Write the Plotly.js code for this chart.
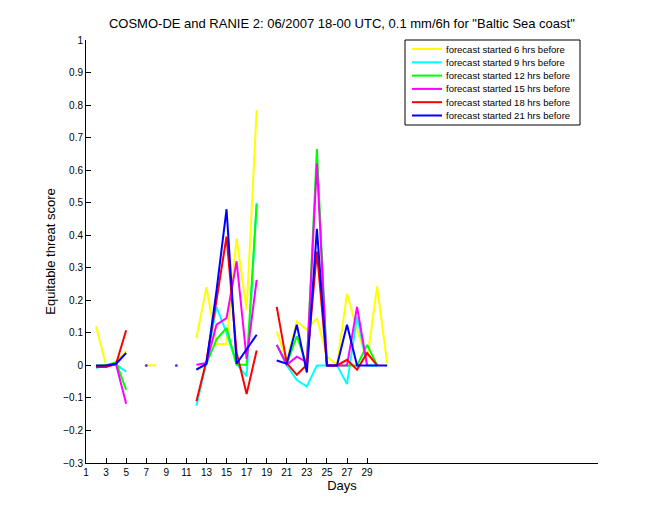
<!DOCTYPE html>
<html>
<head>
<meta charset="utf-8">
<script src="https://cdn.plot.ly/plotly-3.0.1.min.js"></script>
<style>html,body{margin:0;padding:0;background:#fff;}#chart{width:660px;height:520px;}</style>
</head>
<body>
<div id="chart"></div>
<script>
const days = [1,2,3,4,5,6,7,8,9,10,11,12,13,14,15,16,17,18,19,20,21,22,23,24,25,26,27,28,29,30,31];
const tickDays = [1,3,5,7,9,11,13,15,17,19,21,23,25,27,29];
const seriesNames = [
  "forecast started 6 hrs before",
  "forecast started 9 hrs before",
  "forecast started 12 hrs before",
  "forecast started 15 hrs before",
  "forecast started 18 hrs before",
  "forecast started 21 hrs before"
];
const seriesColors = ["#ffff00","#00ffff","#00ff00","#ff00ff","#ff0000","#0000ff"];
const N = null;
//                 1    2      3      4      5      6  7  8  9 10 11  12     13     14     15     16     17     18     19  20     21     22     23     24     25     26     27     28     29     30     31
const ets6h  = [N, 0.12,  0.0,   0.01,  0.045, N, 0, 0, N, N, N, 0.084, 0.24,  0.066, 0.066, 0.39,  0.17,  0.785, N, 0.104, 0.015, 0.135, 0.11,  0.145, 0.027, 0.002, 0.22,  0.11,  0.015, 0.243, 0.005];
const ets9h  = [N,-0.008, 0.0,   0.003,-0.019, N, N, N, N, N, N,-0.124, 0.01,  0.18,  0.10,  0.005,-0.034, 0.50,  N, 0.063, 0.0,  -0.045,-0.065, 0.0,   0.0,   0.0,  -0.057, 0.15,  0.0,   0.0,   N];
const ets12h = [N, 0.0,   0.0,   0.01, -0.075, N, N, N, N, N, N,-0.013, 0.005, 0.08,  0.115, 0.002, 0.002, 0.495, N, 0.063, 0.005, 0.09,  0.002, 0.665, 0.0,   0.0,   0.0,   0.0,   0.063, 0.0,   N];
const ets15h = [N,-0.003,-0.003, 0.003,-0.118, N, N, N, N, N, N, 0.002, 0.007, 0.125, 0.145, 0.32,  0.02,  0.263, N, 0.063, 0.002, 0.027, 0.01,  0.62,  0.0,   0.0,   0.0,   0.18,  0.0,   N,     N];
const ets18h = [N,-0.005,-0.005, 0.005, 0.108, N, N, N, N, N, N,-0.11,  0.015, 0.20,  0.396, 0.04, -0.088, 0.046, N, 0.18,  0.007,-0.029, 0.002, 0.35,  0.0,   0.0,   0.017,-0.013, 0.038, 0.0,   N];
const ets21h = [N, 0.0,   0.0,   0.005, 0.038, N, 0, N, N, 0, N,-0.013, 0.005, 0.23,  0.48,  0.005, 0.048, 0.094, N, 0.015, 0.005, 0.125,-0.022, 0.42,  0.0,   0.0,   0.125, 0.0,   0.0,   0.0,   0.0];
const allSeries = [ets6h, ets9h, ets12h, ets15h, ets18h, ets21h];

function isolatedSizes(arr){
  return arr.map((v,i)=>{
    if(v===null) return 0;
    const prev = i>0 ? arr[i-1] : null;
    const next = i<arr.length-1 ? arr[i+1] : null;
    return (prev===null && next===null) ? 3 : 0;
  });
}

const traces = allSeries.map((vals,k)=>({
  type:'scatter',
  mode:'lines+markers',
  x: days,
  y: vals,
  name: seriesNames[k],
  showlegend:false,
  line:{color:seriesColors[k], width:2},
  marker:{color:seriesColors[k], size:isolatedSizes(vals), line:{width:0}},
  connectgaps:false
}));

const font = "Liberation Sans, Arial, Helvetica, sans-serif";

// Custom compact legend (MATLAB style), placed in paper coordinates
const M = {l:86, r:62, t:40, b:57};
const plotW = 660 - M.l - M.r, plotH = 520 - M.t - M.b;
const px2x = p => (p - M.l) / plotW;
const py2y = p => (520 - M.b - p) / plotH;
const leg = {left:405, right:580, top:40, bottom:125, row0:49, rowStep:13.3, lineX0:412, lineX1:442, textX:444};
const shapes = [{
  type:'rect', xref:'paper', yref:'paper',
  x0:px2x(leg.left), x1:px2x(leg.right), y0:py2y(leg.bottom), y1:py2y(leg.top),
  line:{color:'#000', width:1}, fillcolor:'#ffffff', layer:'above'
}];
const annotations = [];
seriesNames.forEach((name,k)=>{
  const yy = py2y(leg.row0 + leg.rowStep*k);
  shapes.push({type:'line', xref:'paper', yref:'paper',
    x0:px2x(leg.lineX0), x1:px2x(leg.lineX1), y0:yy, y1:yy,
    line:{color:seriesColors[k], width:2}, layer:'above'});
  annotations.push({xref:'paper', yref:'paper', x:px2x(leg.textX), y:yy,
    xanchor:'left', yanchor:'middle', showarrow:false, text:name,
    font:{family:font, size:9.5, color:'#000'}});
});

const layout = {
  width:660, height:520,
  paper_bgcolor:'#ffffff', plot_bgcolor:'#ffffff',
  margin:M,
  font:{family:font, size:10, color:'#000'},
  showlegend:false,
  title:{text:'COSMO-DE and RANIE 2: 06/2007 18-00 UTC, 0.1 mm/6h for "Baltic Sea coast"',
         font:{family:font, size:13, color:'#000'}, x:0.518, xanchor:'center', y:0.955, yanchor:'middle'},
  xaxis:{
    range:[1,52], tickmode:'array', tickvals:tickDays, ticktext:tickDays.map(String),
    ticks:'inside', ticklen:5, tickcolor:'#000', showline:true, linecolor:'#000', linewidth:1,
    showgrid:false, zeroline:false, mirror:false,
    tickfont:{family:font, size:10, color:'#000'},
    title:{text:'Days', font:{family:font, size:13, color:'#000'}, standoff:2}
  },
  yaxis:{
    range:[-0.3,1], tick0:-0.3, dtick:0.1, tickmode:'linear',
    ticks:'inside', ticklen:5, tickcolor:'#000', showline:true, linecolor:'#000', linewidth:1,
    showgrid:false, zeroline:false, mirror:false,
    tickfont:{family:font, size:10, color:'#000'},
    title:{text:'Equitable threat score', font:{family:font, size:13, color:'#000'}, standoff:4}
  },
  shapes: shapes,
  annotations: annotations
};

Plotly.newPlot('chart', traces, layout, {displayModeBar:false, staticPlot:true});
</script>
</body>
</html>
